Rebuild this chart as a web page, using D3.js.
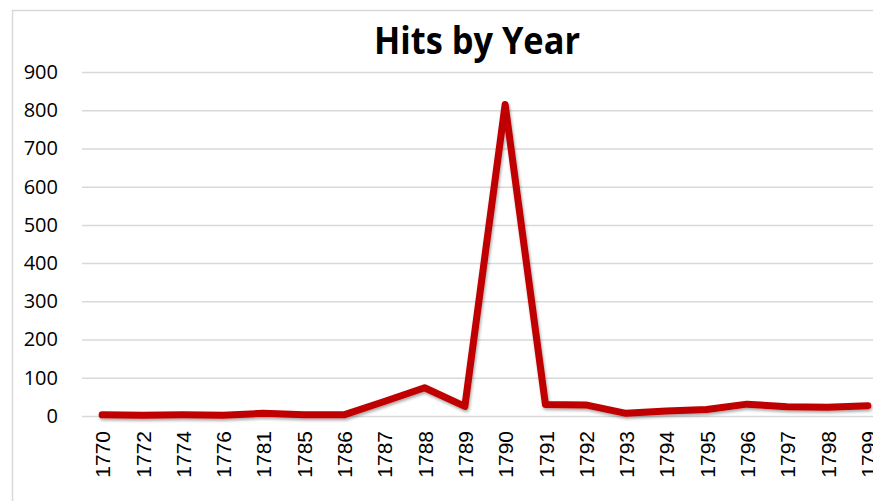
<!DOCTYPE html>
<html>
<head>
<meta charset="utf-8">
<script src="https://cdn.jsdelivr.net/npm/d3@7"></script>
<style>
	html, body { margin: 0; padding: 0; background: #fff; }
	#canvas { width: 873px; height: 501px; overflow: hidden; }
	.title { font-family: 'Open Sans', 'Liberation Sans', sans-serif; font-weight: bold; font-size: 38px; }
	.y-axis .tick text { font-family: 'Open Sans', 'Liberation Sans', sans-serif; font-size: 20px; fill: #000; }
	.x-axis .tick text { font-family: 'Liberation Sans', Arial, sans-serif; font-size: 21px; fill: #000; }
</style>
</head>
<body>
<div id="canvas"></div>
<script>
/**
 * Hits by Year line chart
 */

// Data
var years = [ '1770', '1772', '1774', '1776', '1781', '1785', '1786', '1787', '1788', '1789',
	'1790', '1791', '1792', '1793', '1794', '1795', '1796', '1797', '1798', '1799' ];
var hits = [ 3, 2, 3, 2, 7, 3, 3, 38, 74, 25,
	815, 30, 29, 7, 13, 17, 31, 24, 23, 27 ];
var yTicks = [ 0, 100, 200, 300, 400, 500, 600, 700, 800, 900 ];

// UI
var width = 873,
	height = 501,
	plotLeft = 82,
	plotRight = 888,
	plotTop = 72,
	plotBottom = 416,
	lineColor = '#C00000',
	gridColor = '#D9D9D9';

var svg = d3.select('#canvas').append('svg')
	.attr('width', width)
	.attr('height', height);

// Shadow under the series line
var defs = svg.append('defs');
var shadow = defs.append('filter')
	.attr('id', 'shadow')
	.attr('x', '-5%').attr('y', '-5%')
	.attr('width', '110%').attr('height', '110%');
shadow.append('feDropShadow')
	.attr('dx', 1).attr('dy', 2)
	.attr('stdDeviation', 1.6)
	.attr('flood-color', '#000')
	.attr('flood-opacity', 0.35);

// Chart area border
svg.append('path')
	.attr('d', 'M12.5,' + height + 'V10.5H' + width)
	.attr('fill', 'none')
	.attr('stroke', gridColor)
	.attr('stroke-width', 1.5);

// Scales
var x = d3.scalePoint()
	.domain(years)
	.range([plotLeft, plotRight])
	.padding(0.5);

var y = d3.scaleLinear()
	.domain([0, 900])
	.range([plotBottom, plotTop]);

// Gridlines + y labels
var yAxis = svg.append('g')
	.attr('class', 'y-axis')
	.attr('transform', 'translate(' + plotLeft + ',0)')
	.call(d3.axisLeft(y)
		.tickValues(yTicks)
		.tickSize(-(width - plotLeft))
		.tickPadding(24));
yAxis.select('.domain').remove();
yAxis.selectAll('.tick line')
	.attr('stroke', gridColor)
	.attr('stroke-width', 1.5);

// X labels
var xAxis = svg.append('g')
	.attr('class', 'x-axis')
	.attr('transform', 'translate(0,' + plotBottom + ')')
	.call(d3.axisBottom(x).tickSize(0));
xAxis.select('.domain').remove();
xAxis.selectAll('.tick text')
	.attr('transform', 'rotate(-90)')
	.attr('text-anchor', 'end')
	.attr('x', -15)
	.attr('y', 0)
	.attr('dy', '0.36em');

// Series line
var line = d3.line()
	.x(function(d, i) { return x(years[i]); })
	.y(function(d) { return y(d); });

svg.append('path')
	.datum(hits)
	.attr('d', line)
	.attr('fill', 'none')
	.attr('stroke', lineColor)
	.attr('stroke-width', 7)
	.attr('stroke-linejoin', 'round')
	.attr('stroke-linecap', 'round')
	.attr('filter', 'url(#shadow)');

// Title
svg.append('text')
	.attr('class', 'title')
	.attr('x', 477)
	.attr('y', 54)
	.attr('text-anchor', 'middle')
	.attr('textLength', 206)
	.attr('lengthAdjust', 'spacingAndGlyphs')
	.text('Hits by Year');
</script>
</body>
</html>
